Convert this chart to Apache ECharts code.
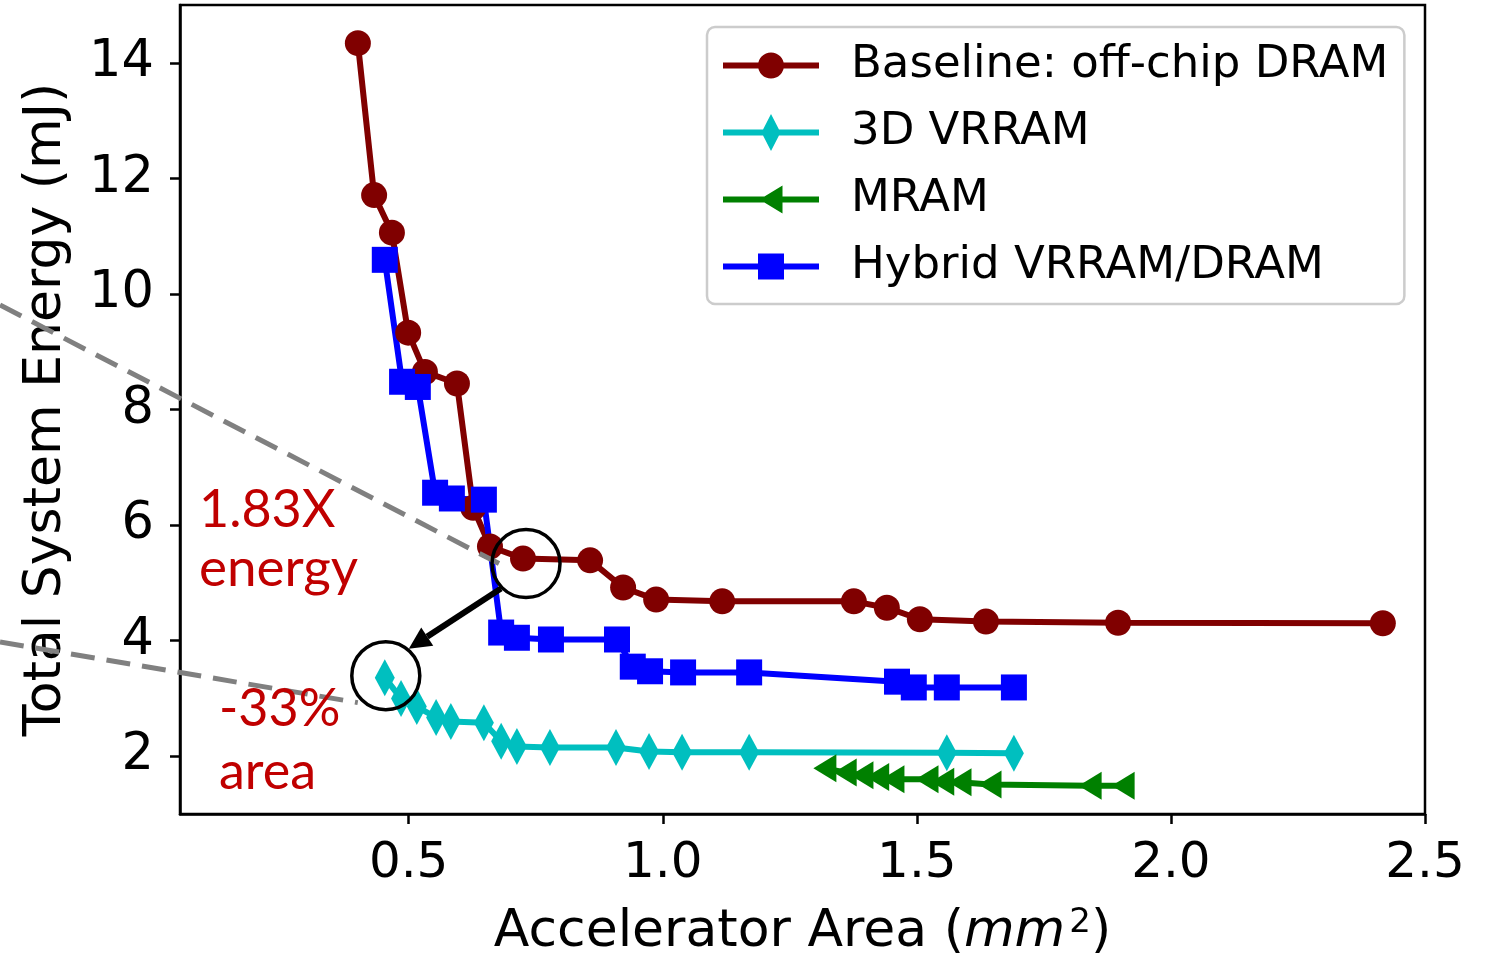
<!DOCTYPE html>
<html>
<head>
<meta charset="utf-8">
<script src="https://cdn.jsdelivr.net/npm/echarts@6/dist/echarts.min.js"></script>
<style>
  html, body { margin: 0; padding: 0; background: #ffffff; }
  #chart { width: 1488px; height: 957px; }
</style>
</head>
<body>
<div id="chart"></div>
<script>
// ---- data: accelerator area (mm^2) vs total system energy (mJ) ----
const seriesNames = ['Baseline: off-chip DRAM', '3D VRRAM', 'MRAM', 'Hybrid VRRAM/DRAM'];

const baselineArea   = [0.400, 0.432, 0.467, 0.499, 0.532, 0.595, 0.627, 0.660, 0.725, 0.857, 0.922, 0.987, 1.117, 1.376, 1.441, 1.506, 1.636, 1.896, 2.417];
const baselineEnergy = [14.34, 11.71, 11.06, 9.33, 8.65, 8.45, 6.30, 5.63, 5.42, 5.39, 4.92, 4.71, 4.68, 4.68, 4.57, 4.37, 4.33, 4.31, 4.30];

const vrramArea   = [0.453, 0.485, 0.516, 0.554, 0.583, 0.648, 0.682, 0.713, 0.778, 0.908, 0.973, 1.038, 1.170, 1.559, 1.691];
const vrramEnergy = [3.36, 3.00, 2.86, 2.67, 2.60, 2.58, 2.26, 2.17, 2.15, 2.15, 2.08, 2.07, 2.07, 2.06, 2.05];

const mramArea   = [1.319, 1.359, 1.392, 1.423, 1.453, 1.520, 1.551, 1.585, 1.644, 1.841, 1.906];
const mramEnergy = [1.79, 1.72, 1.67, 1.64, 1.60, 1.60, 1.56, 1.55, 1.51, 1.49, 1.49];

const hybridArea   = [0.453, 0.487, 0.518, 0.552, 0.585, 0.648, 0.682, 0.713, 0.780, 0.910, 0.941, 0.975, 1.040, 1.170, 1.461, 1.494, 1.559, 1.691];
const hybridEnergy = [10.59, 8.48, 8.39, 6.56, 6.46, 6.44, 4.14, 4.05, 4.02, 4.02, 3.55, 3.47, 3.45, 3.45, 3.29, 3.19, 3.19, 3.19];

const xTicks = [0.5, 1.0, 1.5, 2.0, 2.5];
const yTicks = [2, 4, 6, 8, 10, 12, 14];

const energyNote = ['1.83X', 'energy'];
const areaNote = ['-33%', 'area'];

// ---- styling ----
const FONT = 'DejaVu Sans';
const NOTE_FONT = 'Lato';
const colors = ['#800000', '#00BFBF', '#008000', '#0000FF'];

const zip = (xs, ys) => xs.map((x, i) => [x, ys[i]]);

// legend icons: a line segment with the series marker on top (96 x 40 box)
const legendIcons = [
  'path://M0,17H96V23H0Z M35,20A13,13,0,1,1,61,20A13,13,0,1,1,35,20Z',
  'path://M0,17H96V23H0Z M48,1.5L57.5,20L48,38.5L38.5,20Z',
  'path://M0,17H96V23H0Z M36.5,20L59.5,6L59.5,34Z',
  'path://M0,17H96V23H0Z M35,7H61V33H35Z'
];

const axisCommon = {
  type: 'value',
  splitLine: { show: false },
  axisLine: { show: true, onZero: false, lineStyle: { color: '#000', width: 2.5 } },
  nameLocation: 'middle'
};

const option = {
  animation: false,
  backgroundColor: '#ffffff',
  grid: {
    left: 180, right: 63, top: 5, bottom: 143,
    outerBoundsMode: 'none',
    containLabel: false,
    show: true, borderColor: '#000', borderWidth: 2.5, backgroundColor: 'transparent'
  },
  xAxis: Object.assign({}, axisCommon, {
    min: 0.05, max: 2.5,
    axisTick: { show: true, inside: false, length: 10, lineStyle: { color: '#000', width: 2.5 }, customValues: xTicks },
    axisLabel: {
      customValues: xTicks, margin: 25, color: '#000', fontFamily: FONT, fontSize: 50,
      formatter: v => v.toFixed(1)
    },
    name: '{n|Accelerator Area (}{i|mm}{s|2}{n|)}',
    nameGap: 92,
    nameTextStyle: {
      color: '#000', fontFamily: FONT, fontSize: 52,
      rich: {
        n: { fontFamily: FONT, fontSize: 52, color: '#000' },
        i: { fontFamily: FONT, fontSize: 52, fontStyle: 'italic', color: '#000' },
        s: { fontFamily: FONT, fontSize: 34, lineHeight: 8, color: '#000', verticalAlign: 'top', padding: [0, 0, 0, 4] }
      }
    }
  }),
  yAxis: Object.assign({}, axisCommon, {
    min: 1, max: 15,
    axisTick: { show: true, inside: false, length: 10, lineStyle: { color: '#000', width: 2.5 }, customValues: yTicks },
    axisLabel: { customValues: yTicks, margin: 26, color: '#000', fontFamily: FONT, fontSize: 51 },
    name: 'Total System Energy (mJ)',
    nameGap: 108,
    nameTextStyle: { color: '#000', fontFamily: FONT, fontSize: 52 }
  }),
  legend: {
    orient: 'vertical',
    left: 707, top: 27,
    padding: [16, 16, 15, 16],
    itemWidth: 96, itemHeight: 40, itemGap: 22,
    borderColor: '#cccccc', borderWidth: 2.5, borderRadius: 8,
    backgroundColor: 'rgba(255,255,255,0.8)',
    itemStyle: { borderWidth: 0 },
    textStyle: { fontFamily: FONT, fontSize: 45, color: '#000', padding: [0, 0, 0, 27] },
    data: seriesNames.map((n, i) => ({ name: n, icon: legendIcons[i] }))
  },
  series: [
    {
      name: seriesNames[0], type: 'line', data: zip(baselineArea, baselineEnergy),
      symbol: 'circle', symbolSize: 26
    },
    {
      name: seriesNames[1], type: 'line', data: zip(vrramArea, vrramEnergy),
      symbol: 'diamond', symbolSize: [20, 37]
    },
    {
      name: seriesNames[2], type: 'line', data: zip(mramArea, mramEnergy),
      symbol: 'triangle', symbolRotate: 90, symbolSize: [28, 23]
    },
    {
      name: seriesNames[3], type: 'line', data: zip(hybridArea, hybridEnergy),
      symbol: 'rect', symbolSize: 26
    }
  ].map((s, i) => Object.assign(s, {
    color: colors[i],
    showAllSymbol: true,
    lineStyle: { color: colors[i], width: 6 },
    itemStyle: { color: colors[i], borderWidth: 0 },
    emphasis: { disabled: true }
  }))
};

const chart = echarts.init(document.getElementById('chart'), null, { renderer: 'canvas' });
chart.setOption(option);

// ---- annotations: highlighted design points, arrow, zoom guides, notes ----
const toPx = pt => chart.convertToPixel({ xAxisIndex: 0, yAxisIndex: 0 }, pt);
const c1raw = toPx([baselineArea[8], baselineEnergy[8]]);
const c2raw = toPx([vrramArea[0], vrramEnergy[0]]);
const c1 = [c1raw[0] + 3, c1raw[1] + 5];
const c2 = [c2raw[0] + 1, c2raw[1] - 2];
const R = 34;

const arrowStart = [c1[0] - 25, c1[1] + 25];
const arrowTip = [c2[0] + 23, c2[1] - 27];
const dx = arrowTip[0] - arrowStart[0], dy = arrowTip[1] - arrowStart[1];
const len = Math.hypot(dx, dy);
const ux = dx / len, uy = dy / len;
const headLen = 22, headHalf = 11;
const headBase = [arrowTip[0] - ux * headLen, arrowTip[1] - uy * headLen];

const guide = { stroke: '#808080', lineWidth: 5, lineDash: [24, 12] };
const noteStyle = (text, x, y, size) => ({
  type: 'text', z: 100,
  style: { text, x, y, fill: '#C00000', font: size + 'px ' + NOTE_FONT, verticalAlign: 'middle', align: 'left' }
});

chart.setOption({
  graphic: [
    { type: 'line', z: 100, shape: { x1: 0, y1: 305, x2: c1[0] - 27, y2: c1[1] }, style: guide },
    { type: 'line', z: 100, shape: { x1: 0, y1: 642, x2: c2[0] - 28, y2: c2[1] + 27 }, style: guide },
    { type: 'circle', z: 100, shape: { cx: c1[0], cy: c1[1], r: R }, style: { fill: null, stroke: '#000', lineWidth: 3.5 } },
    { type: 'circle', z: 100, shape: { cx: c2[0], cy: c2[1], r: R }, style: { fill: null, stroke: '#000', lineWidth: 3.5 } },
    { type: 'line', z: 100, shape: { x1: arrowStart[0], y1: arrowStart[1], x2: headBase[0], y2: headBase[1] }, style: { stroke: '#000', lineWidth: 6 } },
    {
      type: 'polygon', z: 100,
      shape: { points: [
        arrowTip,
        [headBase[0] - uy * headHalf, headBase[1] + ux * headHalf],
        [headBase[0] + uy * headHalf, headBase[1] - ux * headHalf]
      ] },
      style: { fill: '#000' }
    },
    noteStyle(energyNote[0], 199, 510, 52),
    noteStyle(energyNote[1], 199, 569, 53),
    noteStyle(areaNote[0], 219, 709, 52),
    noteStyle(areaNote[1], 219, 772, 52)
  ]
});
</script>
</body>
</html>
